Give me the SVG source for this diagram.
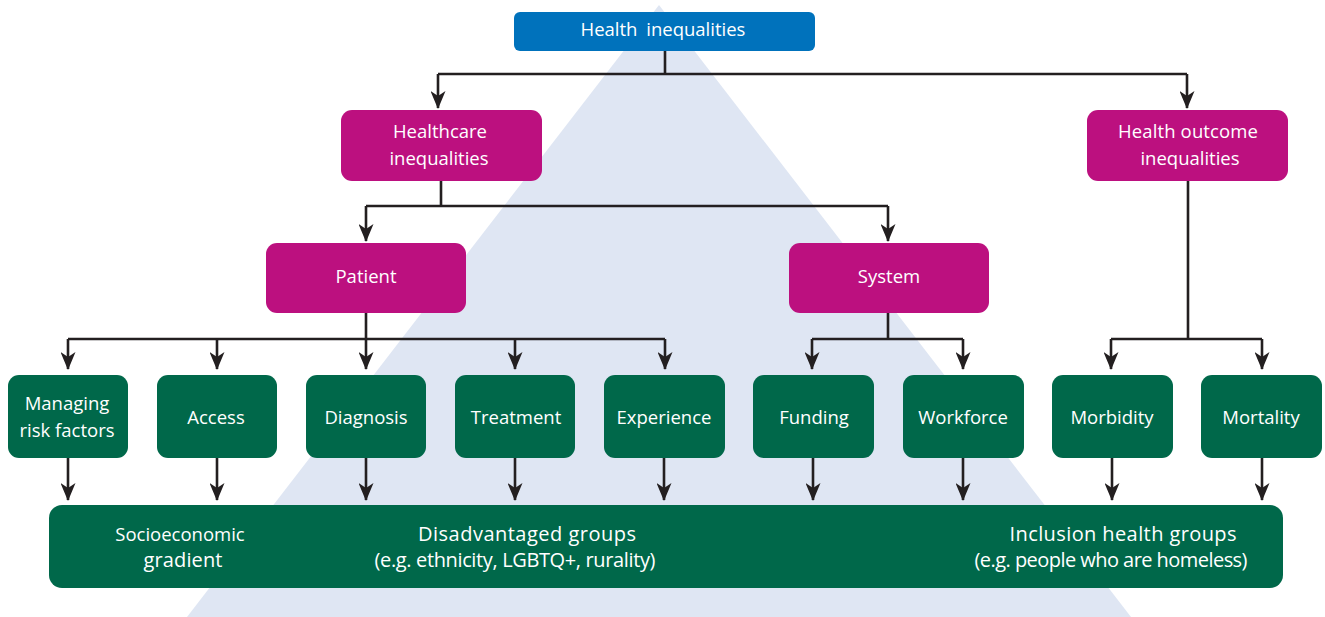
<svg xmlns="http://www.w3.org/2000/svg" width="1325" height="617" viewBox="0 0 1325 617">
  <defs>
    <style>
      .lbl { font-family: "Open Sans", "Liberation Sans", sans-serif; font-size: 18.5px; fill: #ffffff; text-anchor: middle; }
      .big { font-size: 20px; }
      .top { fill: #0072bc; }
      .mid { fill: #bc107f; }
      .leaf { fill: #00684a; }
      .wire { fill: none; stroke: #231f20; stroke-width: 2.6; }
    </style>
    <marker id="head" markerUnits="userSpaceOnUse" viewBox="0 0 18 15" markerWidth="18" markerHeight="15" refX="17" refY="7.5" orient="auto">
      <path d="M0,0 L18,7.5 L0,15 L5,7.5 Z" fill="#231f20"/>
    </marker>
  </defs>

  <!-- background triangle -->
  <polygon points="659,5 1131,617 187,617" fill="#dfe6f3"/>

  <!-- connectors -->
  <g id="connectors">
    <path class="wire" d="M665,50 V74 M438,74 H1187"/>
    <path class="wire" d="M438,74 V108" marker-end="url(#head)"/>
    <path class="wire" d="M1187,74 V108" marker-end="url(#head)"/>

    <path class="wire" d="M441,181 V206 M366,206 H888"/>
    <path class="wire" d="M366,206 V241" marker-end="url(#head)"/>
    <path class="wire" d="M888,206 V241" marker-end="url(#head)"/>

    <path class="wire" d="M366,313 V339 M68,339 H665"/>
    <path class="wire" d="M68,339 V369" marker-end="url(#head)"/>
    <path class="wire" d="M217,339 V369" marker-end="url(#head)"/>
    <path class="wire" d="M366,339 V369" marker-end="url(#head)"/>
    <path class="wire" d="M515,339 V369" marker-end="url(#head)"/>
    <path class="wire" d="M665,339 V369" marker-end="url(#head)"/>

    <path class="wire" d="M888,313 V339 M812,339 H963"/>
    <path class="wire" d="M812,339 V369" marker-end="url(#head)"/>
    <path class="wire" d="M963,339 V369" marker-end="url(#head)"/>

    <path class="wire" d="M1188,181 V339 M1111,339 H1262"/>
    <path class="wire" d="M1111,339 V369" marker-end="url(#head)"/>
    <path class="wire" d="M1262,339 V369" marker-end="url(#head)"/>

    <path class="wire" d="M68,458 V500" marker-end="url(#head)"/>
    <path class="wire" d="M217,458 V500" marker-end="url(#head)"/>
    <path class="wire" d="M366,458 V500" marker-end="url(#head)"/>
    <path class="wire" d="M515,458 V500" marker-end="url(#head)"/>
    <path class="wire" d="M664,458 V500" marker-end="url(#head)"/>
    <path class="wire" d="M813,458 V500" marker-end="url(#head)"/>
    <path class="wire" d="M963,458 V500" marker-end="url(#head)"/>
    <path class="wire" d="M1112,458 V500" marker-end="url(#head)"/>
    <path class="wire" d="M1262,458 V500" marker-end="url(#head)"/>
  </g>

  <!-- top level -->
  <g id="health-inequalities">
    <rect class="top" x="514" y="12" width="301" height="39" rx="6"/>
    <text class="lbl" x="663" y="36" word-spacing="4">Health inequalities</text>
  </g>

  <!-- second level -->
  <g id="healthcare-inequalities">
    <rect class="mid" x="341" y="110" width="201" height="71" rx="11"/>
    <text class="lbl" x="440" y="138">Healthcare</text>
    <text class="lbl" x="439" y="165">inequalities</text>
  </g>
  <g id="health-outcome-inequalities">
    <rect class="mid" x="1087" y="110" width="201" height="71" rx="11"/>
    <text class="lbl" x="1188" y="138" textLength="140">Health outcome</text>
    <text class="lbl" x="1190" y="165">inequalities</text>
  </g>

  <!-- third level -->
  <g id="patient">
    <rect class="mid" x="266" y="243" width="200" height="70" rx="11"/>
    <text class="lbl" x="366" y="283">Patient</text>
  </g>
  <g id="system">
    <rect class="mid" x="789" y="243" width="200" height="70" rx="11"/>
    <text class="lbl" x="889" y="283">System</text>
  </g>

  <!-- leaf nodes -->
  <g id="managing-risk-factors">
    <rect class="leaf" x="8" y="375" width="120" height="83" rx="11"/>
    <text class="lbl" x="67" y="410">Managing</text>
    <text class="lbl" x="67" y="437">risk factors</text>
  </g>
  <g id="access">
    <rect class="leaf" x="157" y="375" width="120" height="83" rx="11"/>
    <text class="lbl" x="216" y="424">Access</text>
  </g>
  <g id="diagnosis">
    <rect class="leaf" x="306" y="375" width="120" height="83" rx="11"/>
    <text class="lbl" x="366" y="424">Diagnosis</text>
  </g>
  <g id="treatment">
    <rect class="leaf" x="455" y="375" width="120" height="83" rx="11"/>
    <text class="lbl" x="516" y="424">Treatment</text>
  </g>
  <g id="experience">
    <rect class="leaf" x="604" y="375" width="121" height="83" rx="11"/>
    <text class="lbl" x="664" y="424">Experience</text>
  </g>
  <g id="funding">
    <rect class="leaf" x="753" y="375" width="121" height="83" rx="11"/>
    <text class="lbl" x="814" y="424">Funding</text>
  </g>
  <g id="workforce">
    <rect class="leaf" x="903" y="375" width="121" height="83" rx="11"/>
    <text class="lbl" x="963" y="424">Workforce</text>
  </g>
  <g id="morbidity">
    <rect class="leaf" x="1052" y="375" width="121" height="83" rx="11"/>
    <text class="lbl" x="1112" y="424">Morbidity</text>
  </g>
  <g id="mortality">
    <rect class="leaf" x="1201" y="375" width="121" height="83" rx="11"/>
    <text class="lbl" x="1261" y="424">Mortality</text>
  </g>

  <!-- population groups bar -->
  <g id="population-groups">
    <rect class="leaf" x="49" y="505" width="1234" height="83" rx="13"/>
    <text class="lbl" x="180" y="541">Socioeconomic</text>
    <text class="lbl big" x="183" y="567" textLength="79">gradient</text>
    <text class="lbl big" x="527" y="541" textLength="218">Disadvantaged groups</text>
    <text class="lbl big" x="515" y="567" textLength="281">(e.g. ethnicity, LGBTQ+, rurality)</text>
    <text class="lbl big" x="1123" y="541" textLength="227">Inclusion health groups</text>
    <text class="lbl big" x="1111" y="567" textLength="273">(e.g. people who are homeless)</text>
  </g>
</svg>
